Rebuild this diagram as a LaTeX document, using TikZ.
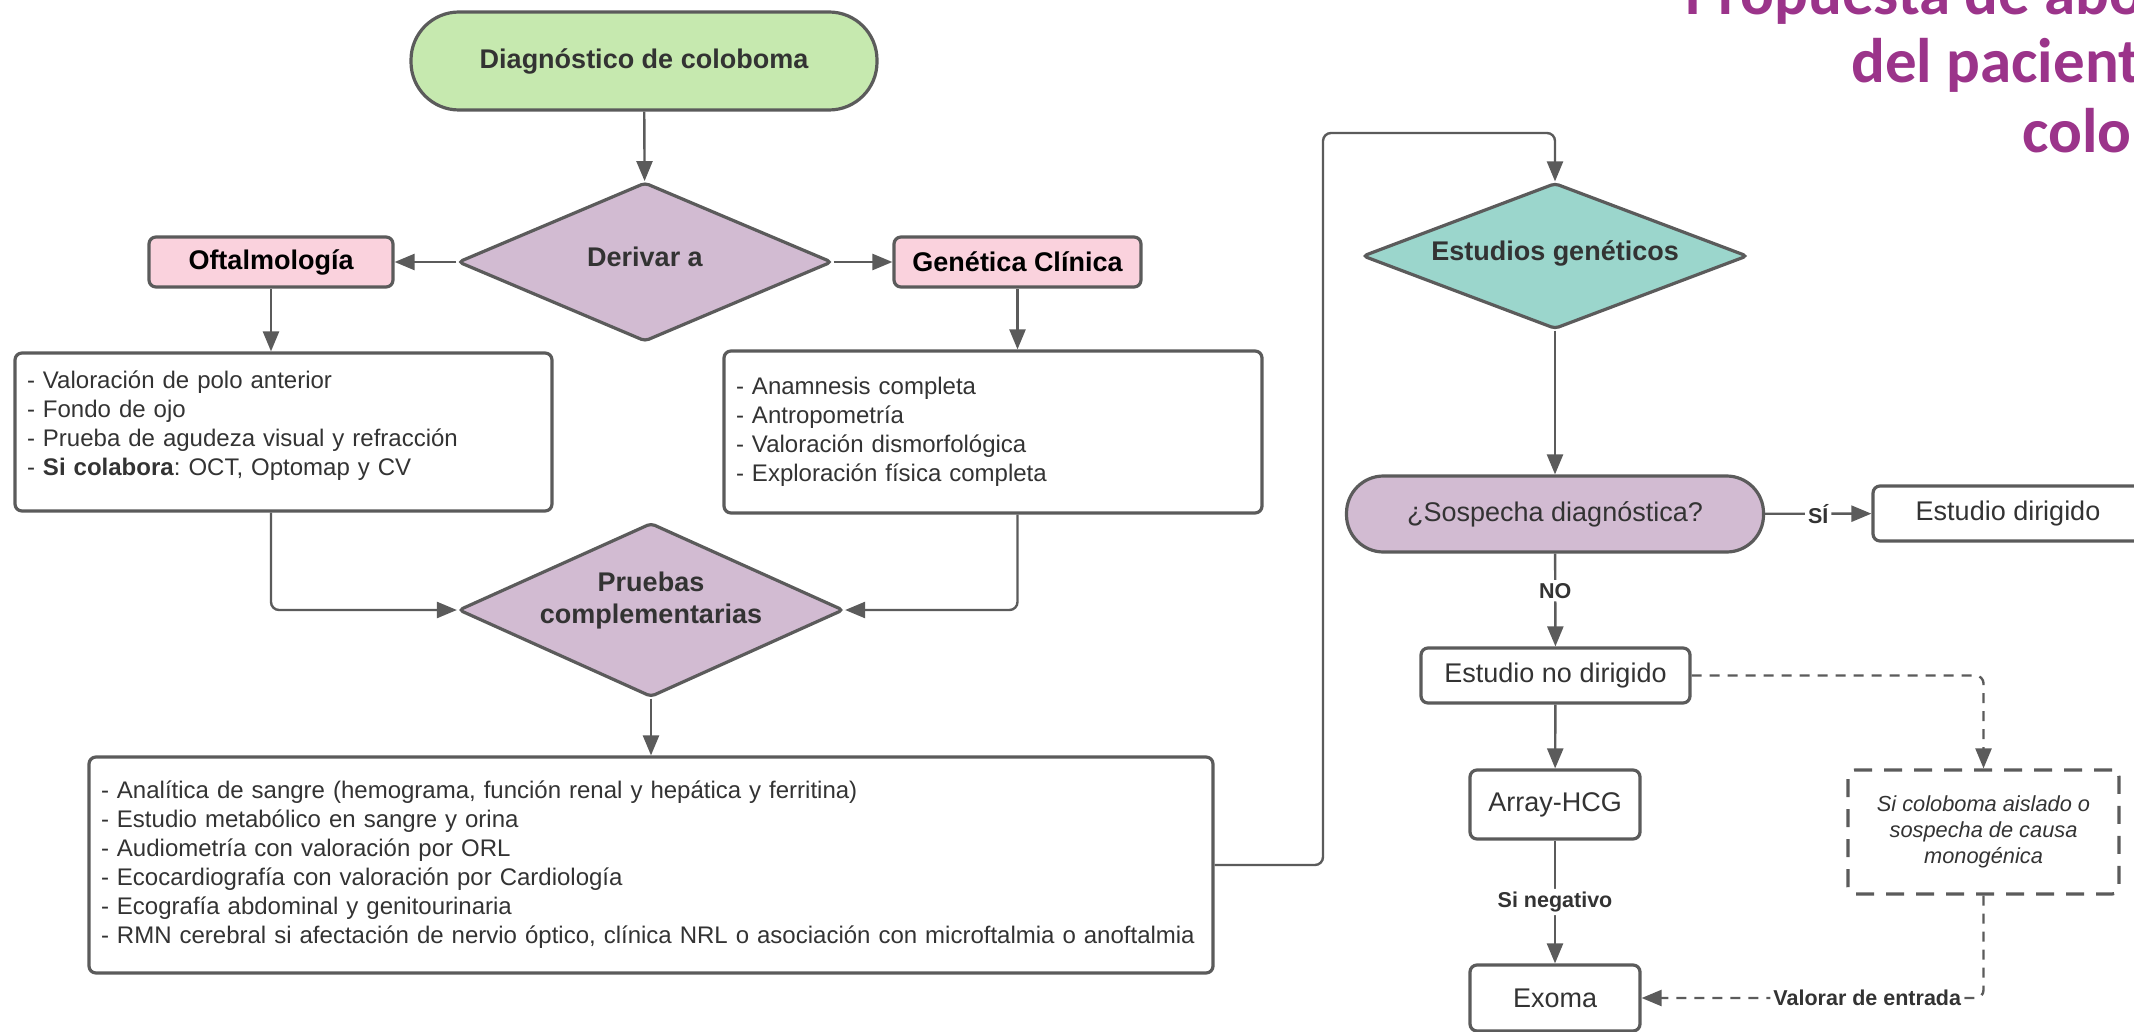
\documentclass[tikz,border=0pt]{standalone}
\usepackage{fontspec}
\setmainfont{Liberation Sans}
\newfontfamily\titlefont{Carlito}
\usetikzlibrary{arrows.meta,shapes.geometric}
\frenchspacing

\definecolor{linegray}{HTML}{5B5B5B}
\definecolor{textgray}{HTML}{333333}
\definecolor{startgreen}{HTML}{C6E9AF}
\definecolor{askpurple}{HTML}{D2BBD2}
\definecolor{deptpink}{HTML}{FAD2DD}
\definecolor{genteal}{HTML}{9BD6CC}
\definecolor{titlepurple}{HTML}{9B348A}

\begin{document}
\begin{tikzpicture}[x=0.5pt, y=-0.5pt,
    >={Triangle[length=10pt,width=8pt]},
    conn/.style={draw=linegray, line width=1.2pt, rounded corners=4pt},
    dashconn/.style={conn, dash pattern=on 5pt off 4pt},
    box/.style={draw=linegray, line width=1.6pt, rounded corners=3.5pt, fill=white,
        text=textgray, inner sep=0pt, font=\fontsize{13.5}{16}\selectfont},
    bbox/.style={box, font=\bfseries\fontsize{13.5}{16}\selectfont},
    listbox/.style={box, align=left, inner xsep=6pt, font=\fontsize{12}{14.5}\selectfont},
    dept/.style={bbox, fill=deptpink, text=black},
    ask/.style={box, diamond, rounded corners=2pt, fill=askpurple},
    asktext/.style={font=\bfseries\fontsize{13.5}{16}\selectfont, text=textgray, align=center, inner sep=0pt},
    notebox/.style={box, dash pattern=on 9pt off 6pt, align=center,
        font=\itshape\fontsize{10.9}{13}\selectfont},
    lbl/.style={fill=white, inner sep=1.5pt, text=textgray,
        font=\bfseries\fontsize{10.75}{12}\selectfont},
    titletext/.style={anchor=base west, inner sep=0pt, text=titlepurple,
        font=\titlefont\bfseries\fontsize{31.5}{34}\selectfont}]

    \useasboundingbox (0,0) rectangle (2134,1032);

    % title, cut by the right edge
    \begin{scope}
    \clip (0,0) rectangle (2134,1032);
    \node[titletext] (title1) at (1685,15) {Propuesta de abo};
    \node[titletext] (title2) at (1851,83) {del pacient};
    \node[titletext] (title3) at (2022,153) {colo};
    \node[box, minimum width=135pt, minimum height=27.5pt] (estdir) at (2008,513.5) {Estudio dirigido};
    \end{scope}

    % left part
    \node[bbox, fill=startgreen, rounded corners=24pt, minimum width=233pt, minimum height=49pt] (diag) at (644,61) {Diagnóstico de coloboma};
    \node[ask, aspect=2.35, minimum width=187pt, minimum height=79.5pt,
        label={[asktext, yshift=2.7pt]center:Derivar a}] (derivar) at (645,262) {};
    \node[dept, minimum width=122pt, minimum height=25pt] (oftal) at (271,262) {Oftalmología};
    \node[dept, minimum width=123.5pt, minimum height=25pt] (genet) at (1017.5,262) {Genética Clínica};
    \node[listbox, text width=256.5pt, minimum height=79pt] (oftlist) at (283.5,432) {%
        - Valoración de polo anterior\\
        - Fondo de ojo\\
        - Prueba de agudeza visual y refracción\\
        - \textbf{Si colabora}: OCT, Optomap y CV\par\vspace*{6.8pt}};
    \node[listbox, text width=257pt, minimum height=81pt] (genlist) at (993,432) {%
        - Anamnesis completa\\
        - Antropometría\\
        - Valoración dismorfológica\\
        - Exploración física completa};
    \node[ask, aspect=2.21, minimum width=192.5pt, minimum height=87pt,
        label={[asktext, yshift=4.8pt]center:{Pruebas\\complementarias}}] (pruebas) at (651,610) {};
    \node[listbox, text width=550pt, minimum height=108pt] (analisis) at (651,865) {%
        - Analítica de sangre (hemograma, función renal y hepática y ferritina)\\
        - Estudio metabólico en sangre y orina\\
        - Audiometría con valoración por ORL\\
        - Ecocardiografía con valoración por Cardiología\\
        - Ecografía abdominal y genitourinaria\\
        - RMN cerebral si afectación de nervio óptico, clínica NRL o asociación con microftalmia o anoftalmia};

    % right part
    \node[ask, fill=genteal, aspect=2.64, minimum width=192.5pt, minimum height=73pt,
        label={[asktext, yshift=1.5pt]center:Estudios genéticos}] (estgen) at (1555,256) {};
    \node[box, fill=askpurple, rounded corners=18.5pt, minimum width=208.5pt, minimum height=38pt] (sospecha) at (1555,514) {¿Sospecha diagnóstica?};
    \node[box, minimum width=134.5pt, minimum height=27.5pt] (estnodir) at (1555.5,675.5) {Estudio no dirigido};
    \node[box, minimum width=85pt, minimum height=34.5pt] (array) at (1555,804.5) {Array-HCG};
    \node[box, minimum width=85pt, minimum height=33pt] (exoma) at (1555,998) {Exoma};
    \node[notebox, minimum width=135.5pt, minimum height=62pt] (nota) at (1983.5,832) {Si coloboma aislado o\\sospecha de causa\\monogénica};
    \coordinate (loop) at (1323,133);

    % connectors
    \draw[conn,->] (diag) -- (derivar);
    \draw[conn,->] (derivar) -- (oftal);
    \draw[conn,->] (derivar) -- (genet);
    \draw[conn,->] (oftal) -- (oftal |- oftlist.north);
    \draw[conn,->] (genet) -- (genet |- genlist.north);
    \draw[conn,->] (oftal |- oftlist.south) |- (pruebas.west);
    \draw[conn,->] (genet |- genlist.south) |- (pruebas.east);
    \draw[conn,->] (pruebas) -- (analisis);
    \draw[conn,->] (analisis.east) -| (loop) -| (estgen.north);
    \draw[conn,->] (estgen) -- (sospecha);
    \draw[conn,->] (sospecha) -- node[lbl] {SÍ} (estdir);
    \draw[conn,->] (sospecha) -- node[lbl, pos=0.4] {NO} (estnodir);
    \draw[conn,->] (estnodir) -- (array);
    \draw[conn,->] (array) -- node[lbl] {Si negativo} (exoma);
    \draw[dashconn,->] (estnodir.east) -| (nota.north);
    \draw[dashconn,->] (nota.south) |- node[lbl, pos=0.67] {Valorar de entrada} (exoma.east);
\end{tikzpicture}
\end{document}
